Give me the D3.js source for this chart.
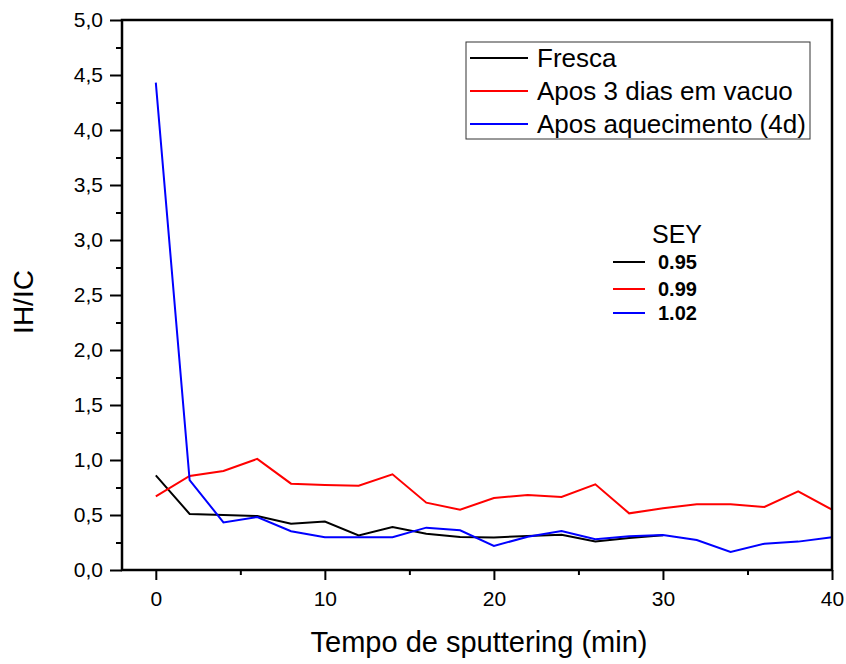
<!DOCTYPE html>
<html>
<head>
<meta charset="utf-8">
<script src="https://cdn.jsdelivr.net/npm/d3@7"></script>
<style>
  html, body { margin: 0; padding: 0; background: #fff; }
  svg { display: block; font-family: "Liberation Sans", Arial, sans-serif; }
</style>
</head>
<body>
<svg id="chart" width="846" height="664"></svg>
<script>
// Sputtering time (min)
const tempo = [0, 2, 4, 6, 8, 10, 12, 14, 16, 18, 20, 22, 24, 26, 28, 30, 32, 34, 36, 38, 40];

// IH/IC ratio per sample
const fresca = [0.86, 0.51, 0.50, 0.49, 0.42, 0.44, 0.315, 0.39, 0.33, 0.30, 0.295, 0.31, 0.32, 0.26, 0.29, 0.315];
const vacuo = [0.67, 0.855, 0.90, 1.01, 0.785, 0.773, 0.767, 0.87, 0.612, 0.548, 0.655, 0.682, 0.664, 0.779, 0.515, 0.561, 0.597, 0.597, 0.573, 0.715, 0.548];
const aquecimento = [4.43, 0.818, 0.433, 0.482, 0.352, 0.297, 0.297, 0.297, 0.385, 0.361, 0.218, 0.303, 0.355, 0.279, 0.306, 0.318, 0.273, 0.164, 0.239, 0.258, 0.297];

const seriesNames = ["Fresca", "Apos 3 dias em vacuo", "Apos aquecimento (4d)"];
const seriesColors = ["#000000", "#ff0000", "#0000ff"];
const seyValues = ["0.95", "0.99", "1.02"];

const xMajor = [0, 10, 20, 30, 40];
const xMinor = [5, 15, 25, 35];
const yMajor = [0, 0.5, 1, 1.5, 2, 2.5, 3, 3.5, 4, 4.5, 5];
const yMinor = [0.25, 0.75, 1.25, 1.75, 2.25, 2.75, 3.25, 3.75, 4.25, 4.75];

const svg = d3.select("#chart");
const plotL = 122, plotR = 832, plotT = 20, plotB = 570;

const x = d3.scaleLinear().domain([-2, 40]).range([plotL, plotR]);
const y = d3.scaleLinear().domain([0, 5]).range([plotB, plotT]);

const fmt = d => d.toFixed(1).replace(".", ",");
const tickFont = "Liberation Sans, Arial, sans-serif";

// Minor ticks
svg.append("g")
  .attr("transform", `translate(0,${plotB})`)
  .call(d3.axisBottom(x).tickValues(xMinor).tickSize(5).tickFormat(""))
  .call(g => g.select(".domain").remove())
  .call(g => g.selectAll("line").attr("stroke-width", 2));
svg.append("g")
  .attr("transform", `translate(${plotL},0)`)
  .call(d3.axisLeft(y).tickValues(yMinor).tickSize(6).tickFormat(""))
  .call(g => g.select(".domain").remove())
  .call(g => g.selectAll("line").attr("stroke-width", 2));

// Major ticks and labels
svg.append("g")
  .attr("transform", `translate(0,${plotB})`)
  .call(d3.axisBottom(x).tickValues(xMajor).tickSize(10).tickPadding(11).tickFormat(d3.format("d")))
  .call(g => g.select(".domain").remove())
  .call(g => g.selectAll("line").attr("stroke-width", 2))
  .call(g => g.selectAll("text").attr("font-size", 21).attr("font-family", tickFont).attr("fill", "#000"));
svg.append("g")
  .attr("transform", `translate(${plotL},0)`)
  .call(d3.axisLeft(y).tickValues(yMajor).tickSize(12).tickPadding(7).tickFormat(fmt))
  .call(g => g.select(".domain").remove())
  .call(g => g.selectAll("line").attr("stroke-width", 2))
  .call(g => g.selectAll("text").attr("font-size", 21).attr("font-family", tickFont).attr("fill", "#000"));

// Data lines
const line = d3.line().x(d => x(d[0])).y(d => y(d[1]));
const allSeries = [fresca, vacuo, aquecimento];
allSeries.forEach((vals, i) => {
  const pts = vals.map((v, j) => [tempo[j], v]);
  svg.append("path")
    .datum(pts)
    .attr("d", line)
    .attr("fill", "none")
    .attr("stroke", seriesColors[i])
    .attr("stroke-width", 2)
    .attr("stroke-linejoin", "miter");
});

// Frame
svg.append("rect")
  .attr("x", plotL).attr("y", plotT)
  .attr("width", plotR - plotL).attr("height", plotB - plotT)
  .attr("fill", "none").attr("stroke", "#000").attr("stroke-width", 2.5);

// Axis titles
svg.append("text")
  .attr("x", (311 + 647) / 2).attr("y", 652)
  .attr("text-anchor", "middle").attr("font-size", 29)
  .text("Tempo de sputtering (min)");
svg.append("text")
  .attr("transform", "translate(33,302) rotate(-90)")
  .attr("text-anchor", "middle").attr("font-size", 28)
  .text("IH/IC");

// Series legend
const lg = svg.append("g");
lg.append("rect")
  .attr("x", 466).attr("y", 42).attr("width", 344).attr("height", 97)
  .attr("fill", "#fff").attr("stroke", "#333").attr("stroke-width", 1);
const legendY = [58, 91, 124];
seriesNames.forEach((name, i) => {
  lg.append("line")
    .attr("x1", 470).attr("x2", 528)
    .attr("y1", legendY[i]).attr("y2", legendY[i])
    .attr("stroke", seriesColors[i]).attr("stroke-width", 2);
  lg.append("text")
    .attr("x", 537).attr("y", legendY[i] + 9)
    .attr("font-size", 26)
    .text(name);
});

// SEY legend
const sg = svg.append("g");
sg.append("text")
  .attr("x", 652).attr("y", 243).attr("font-size", 25)
  .text("SEY");
const seyLineY = [262, 289, 313];
seyValues.forEach((v, i) => {
  sg.append("line")
    .attr("x1", 613).attr("x2", 645)
    .attr("y1", seyLineY[i]).attr("y2", seyLineY[i])
    .attr("stroke", seriesColors[i]).attr("stroke-width", 2);
  sg.append("text")
    .attr("x", 658).attr("y", seyLineY[i] + 7)
    .attr("font-size", 20).attr("font-weight", "bold")
    .text(v);
});
</script>
</body>
</html>
